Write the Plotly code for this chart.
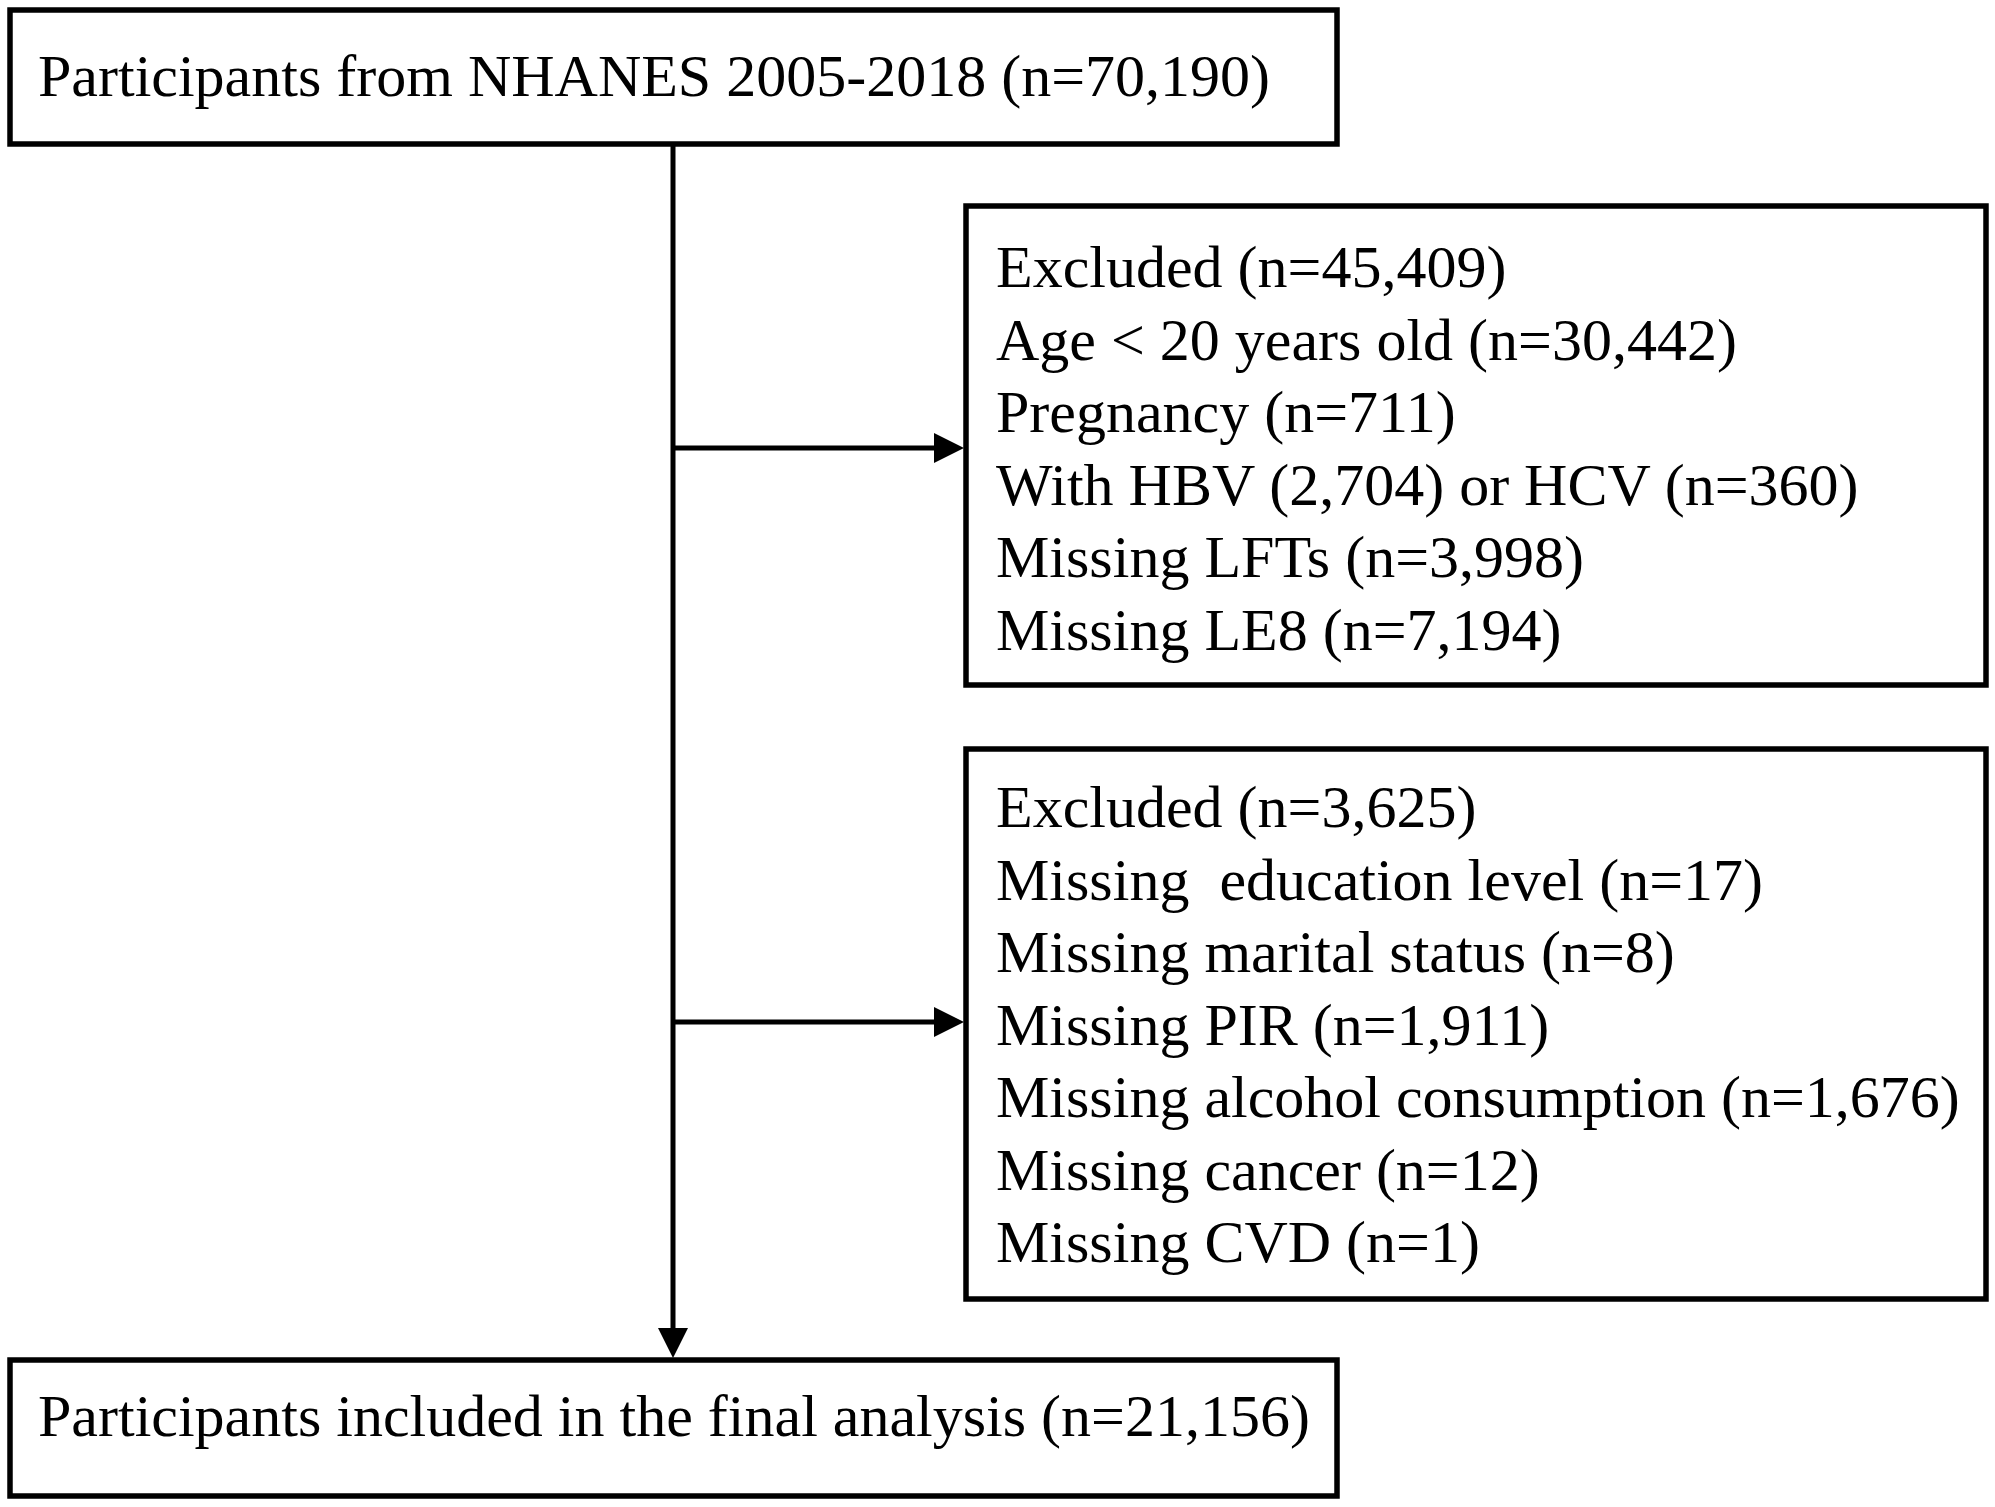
import plotly.graph_objects as go

# flow chart content
start_label = "Participants from NHANES 2005-2018"
start_n = "70,190"

excl1_total = "45,409"
excl1_items = ["Age < 20 years old (n=30,442)",
               "Pregnancy (n=711)",
               "With HBV (2,704) or HCV (n=360)",
               "Missing LFTs (n=3,998)",
               "Missing LE8 (n=7,194)"]

excl2_total = "3,625"
excl2_items = ["Missing  education level (n=17)",
               "Missing marital status (n=8)",
               "Missing PIR (n=1,911)",
               "Missing alcohol consumption (n=1,676)",
               "Missing cancer (n=12)",
               "Missing CVD (n=1)"]

final_label = "Participants included in the final analysis"
final_n = "21,156"

W, H = 1995, 1507
FONT = "Liberation Serif"
FS = 60
LINE = 72.5

fig = go.Figure()
fig.add_trace(go.Scatter(x=[0, W], y=[0, H], mode="markers",
                         marker=dict(opacity=0), hoverinfo="skip", showlegend=False))

def box(x0, y0, x1, y1):
    fig.add_shape(type="rect", x0=x0, y0=y0, x1=x1, y1=y1, xref="x", yref="y",
                  line=dict(color="black", width=5.5), fillcolor="white", layer="below")

def txt(x, y, s):
    fig.add_annotation(x=x, y=y, text=s, showarrow=False, xref="x", yref="y",
                       xanchor="left", yanchor="middle",
                       font=dict(family=FONT, size=FS, color="black"))

def arrow(x0, y0, x1, y1):
    fig.add_annotation(x=x1, y=y1, ax=x0, ay=y0, xref="x", yref="y",
                       axref="x", ayref="y", text="", showarrow=True,
                       arrowhead=2, arrowsize=1.2, arrowwidth=5, arrowcolor="black")

# top box
box(10, 10, 1337, 144)
txt(36, 76, f"{start_label} (n={start_n})")

# main line
arrow(673, 144, 673, 1358)

# first exclusion
box(966, 206, 1986, 685)
lines1 = [f"Excluded (n={excl1_total})"] + excl1_items
for i, s in enumerate(lines1):
    txt(994, 267 + i * LINE, s)
arrow(673, 448, 964, 448)

# second exclusion
box(966, 749, 1986, 1299)
lines2 = [f"Excluded (n={excl2_total})"] + excl2_items
for i, s in enumerate(lines2):
    txt(994, 807 + i * LINE, s)
arrow(673, 1022, 964, 1022)

# final box
box(10, 1360, 1337, 1496)
txt(36, 1416, f"{final_label} (n={final_n})")

fig.update_xaxes(range=[0, W], visible=False, fixedrange=True)
fig.update_yaxes(range=[H, 0], visible=False, fixedrange=True)
fig.update_layout(width=W, height=H, margin=dict(l=0, r=0, t=0, b=0),
                  plot_bgcolor="white", paper_bgcolor="white")

fig.write_html("out.html", config={"displayModeBar": False},
               post_script="document.body.style.margin='0';")
